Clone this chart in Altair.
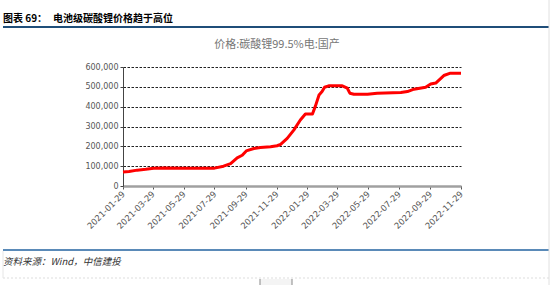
import altair as alt
import pandas as pd

# ---- data ----
dates = [
    "2021-01-29", "2021-02-10", "2021-02-26", "2021-03-15", "2021-03-31",
    "2021-04-20", "2021-05-29", "2021-06-29", "2021-07-29", "2021-08-16",
    "2021-08-30", "2021-09-12", "2021-09-22", "2021-09-30", "2021-10-15",
    "2021-10-28", "2021-11-17", "2021-11-30", "2021-12-07", "2021-12-20",
    "2022-01-02", "2022-01-15", "2022-01-25", "2022-02-08", "2022-02-14",
    "2022-02-21", "2022-02-27", "2022-03-04", "2022-03-12", "2022-04-08",
    "2022-04-18", "2022-04-23", "2022-05-01", "2022-05-28", "2022-06-16",
    "2022-08-02", "2022-08-15", "2022-08-28", "2022-09-20", "2022-09-30",
    "2022-10-10", "2022-10-26", "2022-11-08", "2022-11-29",
]
prices = [
    71000, 73000, 80000, 84000, 89000,
    91000, 90000, 89000, 90000, 100000,
    113000, 142000, 155000, 177000, 189000,
    194000, 198000, 203000, 210000, 240000,
    282000, 333000, 363000, 363000, 404000,
    459000, 476000, 498000, 505000, 505000,
    493000, 468000, 463000, 463000, 468000,
    471000, 476000, 488000, 498000, 514000,
    519000, 557000, 569000, 569000,
]
tick_dates = [
    "2021-01-29", "2021-03-29", "2021-05-29", "2021-07-29", "2021-09-29",
    "2021-11-29", "2022-01-29", "2022-03-29", "2022-05-29", "2022-07-29",
    "2022-09-29", "2022-11-29",
]
y_ticks = [0, 100000, 200000, 300000, 400000, 500000, 600000]

header_num = "图表 69："
header_text = "电池级碳酸锂价格趋于高位"
chart_title = "价格:碳酸锂99.5%电:国产"
source_text = "资料来源：Wind，中信建投"


def ms(s):
    return int(pd.Timestamp(s, tz="UTC").value // 10**6)


df = pd.DataFrame({"date": [ms(d) for d in dates], "price": prices})
tick_ms = [ms(d) for d in tick_dates]

W, H = 338, 119
L, T = 123, 67

line = alt.Chart(df).mark_line(color="#ff0000", strokeWidth=3, strokeJoin="round").encode(
    x=alt.X(
        "date:T",
        scale=alt.Scale(type="utc", domain=[tick_ms[0], tick_ms[-1]]),
        axis=alt.Axis(
            values=tick_ms, labelExpr="utcFormat(datum.value, '%Y-%m-%d')", title=None,
            labelAngle=315, labelAlign="right", labelBaseline="middle",
            labelPadding=3, labelFontSize=8.5, labelColor="#555555",
            labelFont="DejaVu Sans", domainColor="#a0a0a0", domainWidth=2.5,
            tickColor="#555555", tickSize=3, grid=False, labelOverlap=False,
            labelBound=False, labelFlush=False,
        ),
    ),
    y=alt.Y(
        "price:Q",
        scale=alt.Scale(domain=[0, 600000], nice=False),
        axis=alt.Axis(
            values=y_ticks, format=",d", title=None, labelFontSize=8,
            labelColor="#555555", labelFont="DejaVu Sans", labelPadding=2,
            domainColor="#444444", domainWidth=1, tickColor="#444444",
            tickSize=3, grid=True, gridColor="#222222", gridDash=[2.5, 1.5],
            gridWidth=1,
        ),
    ),
)

one = pd.DataFrame({"a": [0]})


def text(t, px, py, size, color="#000000", weight="normal", style="normal", align="left", font="Noto Sans CJK SC"):
    return alt.Chart(one).mark_text(
        text=t, fontSize=size, color=color, fontWeight=weight, fontStyle=style,
        align=align, baseline="middle", font=font,
    ).encode(x=alt.value(px - L), y=alt.value(py - T))


def hrule(x1, x2, py, color, width=1, dash=None):
    kw = dict(color=color, strokeWidth=width)
    if dash:
        kw["strokeDash"] = dash
    return alt.Chart(one).mark_rule(**kw).encode(
        x=alt.value(x1 - L), x2=alt.value(x2 - L), y=alt.value(py - T)
    )


def vrule(px, y1, y2, color, width=1):
    return alt.Chart(one).mark_rule(color=color, strokeWidth=width).encode(
        x=alt.value(px - L), y=alt.value(y1 - T), y2=alt.value(y2 - T)
    )


box = alt.Chart(one).mark_rect(color="#f4f4f4").encode(
    x=alt.value(260 - L), x2=alt.value(292 - L), y=alt.value(279 - T), y2=alt.value(285 - T)
)

layers = [
    line,
    text(header_num, 3, 18.5, 10, weight="bold"),
    text(header_text, 53, 18.5, 10, weight="bold"),
    hrule(3, 549, 27, "#1f4e79", 2),
    text(chart_title, 277, 45, 11, color="#777777", align="center"),
    hrule(3, 549, 250, "#5a8ab8", 2),
    text(source_text, 3, 262, 9.5, color="#333333", style="italic"),
    hrule(3, 549, 278, "#dddddd", 1, [2, 2]),
    vrule(549, 0, 285, "#e0e0e0"),
    vrule(3, 251, 278, "#e6e6e6"),
    box,
    vrule(260, 279, 285, "#888888"),
    vrule(292, 279, 285, "#888888"),
]

chart = alt.layer(*layers).properties(
    width=W, height=H,
    autosize=alt.AutoSizeParams(type="none"),
    padding={"left": L, "top": T, "right": 550 - L - W, "bottom": 285 - T - H},
    background="#ffffff",
).configure_view(stroke="transparent")

chart.save("out.html", embed_options={"renderer": "svg", "actions": False})
